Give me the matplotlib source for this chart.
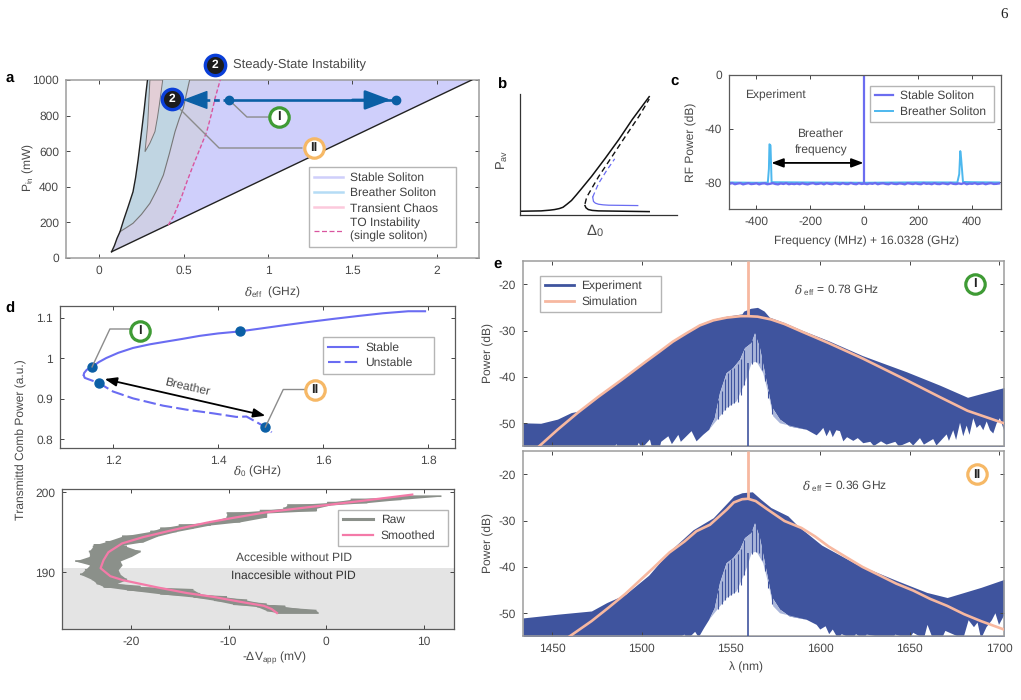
import matplotlib
matplotlib.use("Agg")
import matplotlib.pyplot as plt
from matplotlib.lines import Line2D

W, H = 1021, 700
FS = 8.7
plt.rcParams["font.family"] = ["Liberation Sans", "DejaVu Sans"]
plt.rcParams["mathtext.fontset"] = "custom"
plt.rcParams["mathtext.rm"] = "Liberation Sans"
plt.rcParams["mathtext.it"] = "DejaVu Serif:italic"
plt.rcParams["mathtext.fallback"] = "stix"
plt.rcParams["axes.unicode_minus"] = False
plt.rcParams["text.hinting"] = "no_hinting"
plt.rcParams["text.hinting_factor"] = 1
plt.rcParams["font.size"] = FS
TXT = "#484848"
GRID_GREY = "#9c9c9c"
DARK = "#5a5a5a"
DOT = "#0b5fa5"
GREEN = "#3f9b35"
ORANGE = "#f6b866"
RING = "#0a3fd8"

# ---- panel a: operating regions ----
left_edge_x = [0.073, 0.09, 0.105, 0.123, 0.145, 0.17, 0.20, 0.215, 0.23, 0.241, 0.255, 0.267, 0.277, 0.285, 0.287]
left_edge_y = [35, 70, 110, 148, 215, 285, 372, 450, 550, 635, 745, 841, 930, 994, 1000]
breather_x = [0.123, 0.16, 0.20, 0.25, 0.30, 0.34, 0.38, 0.415, 0.449, 0.475, 0.498, 0.515, 0.534, 0.535]
breather_y = [148, 170, 195, 245, 307, 380, 466, 585, 710, 785, 841, 915, 994, 1000]
chaos_x = [0.30, 0.287, 0.271, 0.30, 0.33, 0.345, 0.356, 0.366, 0.376]
chaos_y = [1000, 747, 597, 645, 710, 790, 860, 930, 1000]
to_x = [0.409, 0.44, 0.488, 0.52, 0.557, 0.595, 0.637, 0.665, 0.686, 0.715, 0.717]
to_y = [185, 235, 344, 430, 522, 610, 710, 810, 897, 994, 1000]
wedge_x = [0.073, 2.207]
wedge_y = [35, 1000]
scan_x = [0.769, 1.758]
scan_y = [888, 888]

# ---- panel b: bistability sketch ----
b_solid_x = [0, .134, .19, .22, .25, .274, .30, .328, .36, .392, .457, .543, .629, .716, .823]
b_solid_y = [.031, .034, .04, .045, .053, .064, .09, .12, .168, .218, .321, .469, .623, .791, .978]
b_dash_x = [.414, .425, .5, .586, .672, .759, .823]
b_dash_y = [.092, .148, .316, .483, .651, .818, .958]
b_low_x = [.414, .42, .435, .46, .5, .823]
b_low_y = [.078, .06, .045, .038, .034, .028]
b_blue_x = [.463, .468, .48, .5, .53, .565, .75]
b_blue_y = [.148, .112, .098, .089, .084, .081, .078]
b_bdash_x = [.463, .5, .554, .603]
b_bdash_y = [.148, .26, .372, .464]

# ---- panel c: RF spectra ----
rf_freq = list(range(-500, 501, 10))
rf_stable = [-81.2, -80.6, -81.5, -81.0, -80.7, -81.6, -81.1, -80.7, -81.4, -81.2,
             -80.8, -81.6, -81.0, -80.8, -81.5, -81.2, -80.7, -81.3, -81.6, -80.9,
             -81.3, -80.7, -81.5, -81.1, -81.4, -81.0, -81.5, -80.8, -81.3, -81.6,
             -81.0, -80.7, -81.4, -81.2, -80.8, -81.6, -80.7, -81.2, -81.5, -80.8,
             -81.1, -81.5, -80.7, -81.3, -81.4, -80.6, -81.2, -81.5, -80.7, -81.3,
             -81.0, -81.4, -80.9, -81.2, -80.6, -81.5, -81.0, -80.8, -81.3, -81.5,
             -80.7, -81.2, -81.4, -80.9, -81.1, -81.6, -80.7, -81.0, -81.4, -80.8,
             -81.3, -81.5, -80.6, -81.2, -81.0, -81.5, -80.7, -81.3, -81.4, -80.8,
             -81.1, -81.5, -80.6, -81.2, -81.4, -80.9, -81.3, -80.6, -81.5, -81.0,
             -81.2, -80.7, -81.4, -81.1, -80.8, -81.5, -81.0, -80.7, -81.3, -81.2, -80.9]
stable_peak = 0
stable_floor = -81
breather_freq = [-500, -400, -358, -354, -352, -348, -344, -200, 0, 200, 345, 352, 356, 359, 366, 400, 500]
breather_rf = [-80.2, -80.4, -80.3, -70, -51.7, -52.5, -80, -80.2, -80.4, -80.1, -80.2, -74, -56.8, -62, -79.8, -80, -80.2]

# ---- panel d (top): comb power ----
stable_d = [1.144, 1.145, 1.15, 1.16, 1.173, 1.187, 1.21, 1.238, 1.27, 1.302, 1.33, 1.365, 1.40, 1.441,
            1.48, 1.524, 1.57, 1.619, 1.665, 1.714, 1.762, 1.794]
stable_p = [.959, .964, .972, .979, .991, 1.001, 1.014, 1.026, 1.035, 1.042, 1.048, 1.056, 1.062, 1.067,
            1.074, 1.082, 1.090, 1.098, 1.105, 1.112, 1.117, 1.117]
unstable_d = [1.144, 1.146, 1.152, 1.173, 1.2, 1.238, 1.295, 1.34, 1.39, 1.435, 1.454, 1.49, 1.502]
unstable_p = [.959, .952, .949, .939, .918, .901, .883, .873, .864, .855, .856, .83, .817]
marked_d = [1.16, 1.441, 1.173, 1.49]
marked_p = [.979, 1.067, .939, .83]

# ---- panel d (bottom): raw and smoothed scan ----
raw_power = [184.9, 185.2, 185.7, 186.0, 186.5, 186.9, 187.3, 187.8, 188.2, 188.6, 189.1,
             189.75, 190.3, 190.9, 191.4, 192.0, 192.6, 193.2, 193.4, 193.8, 194.5, 195.1,
             195.5, 195.9, 196.3, 196.9, 197.4, 197.7, 198.0, 198.4, 198.7, 199.1, 199.5]
raw_left = [-4.9, -6.1, -7.1, -9.5, -11.5, -13.6, -17.0, -20.4, -22.8, -23.5, -24.0,
            -25.2, -24.7, -24.2, -25.7, -24.2, -24.3, -23.9, -23.8, -22.6, -20.9, -18.0,
            -17.0, -15.1, -11.9, -10.2, -10.2, -6.8, -4.4, -4.0, 0.1, 2.5, 7.6]
raw_right = [-0.8, -1.0, -4.2, -6.1, -8.1, -10.2, -12.9, -13.6, -19.0, -21.4, -20.4,
             -21.1, -21.3, -20.9, -21.1, -19.9, -19.0, -20.4, -20.8, -18.7, -17.3, -15.3,
             -13.6, -11.9, -8.8, -6.1, -6.1, -1.0, -1.0, 0.4, 4.2, 7.6, 11.7]
smooth_v = [-5.05, -5.6, -6.4, -8.8, -11.5, -14.3, -17.3, -20.8, -22.1, -22.6, -23.1, -22.8,
            -22.3, -20.9, -18.7, -15.6, -12.2, -9.5, -6.1, -2.7, 0.75, 4.2, 8.8]
smooth_p = [184.9, 185.4, 185.8, 186.3, 186.9, 187.4, 188.1, 189.0, 189.5, 190.0, 190.5, 191.5,
            192.5, 193.6, 194.4, 195.3, 196.2, 196.8, 197.5, 198.0, 198.5, 199.0, 199.7]
pid_limit = 190.5

# ---- panel e: optical spectra ----
up1_wl = [1433.7, 1443.6, 1453.0, 1460.6, 1464.4, 1475.8, 1489, 1501.4, 1509.9, 1517.5, 1525.1, 1532.6,
          1540.2, 1547.8, 1556.2, 1557.2, 1561.1, 1564.9, 1568.6, 1571.5, 1580, 1589.5, 1604.7, 1623.6,
          1648.3, 1667.0, 1682.4, 1690, 1702.8]
up1_db = [-49.9, -50.0, -49.1, -47.7, -47.4, -44, -40.4, -36.7, -34.4, -32.2, -30.3, -28.6,
          -27.5, -26.9, -26.4, -25.8, -25.2, -25, -25.8, -27.1, -28.3, -29.9, -32.2, -35.4,
          -38.9, -41.8, -44.4, -43.6, -42.3]
up2_wl = [1433.7, 1453, 1472, 1480.5, 1491, 1504, 1515.4, 1528.8, 1540.1, 1551.6, 1556.2, 1562,
          1566.7, 1572.4, 1581.9, 1587.6, 1600.8, 1619.8, 1642.5, 1659.6, 1671, 1680.5, 1690, 1702.8]
up2_db = [-51, -50.2, -49.5, -47.7, -45.9, -41.8, -36.7, -32, -29.4, -24.7, -24, -23.8,
          -25.4, -27.2, -29, -31.2, -35.3, -39.3, -42.9, -45.5, -46.6, -45.5, -44.4, -42.7]

# lower edge of the comb around the pump (tooth tips)
mid_wl = [1537.9, 1541, 1543.9, 1547.6, 1551.3, 1555.1, 1557.9, 1561.6, 1563.5, 1566.3,
          1569.1, 1572.8, 1577.5, 1583, 1592.4]
mid_db = [-51.4, -48.9, -43.5, -39.2, -38.1, -36.3, -33.8, -32.7, -30.6, -33.8,
          -39.2, -46.4, -49.2, -50.7, -51.4]
low1_left_wl = [1433.7, 1484, 1486, 1487, 1497, 1498.5, 1500, 1504.7, 1506, 1510, 1511, 1515, 1517, 1520.6,
                1522, 1528, 1530.8, 1534.5]
low1_left_db = [-55.5, -55.5, -54.5, -55.5, -55.5, -54.2, -55.5, -53.5, -55.5, -55.5, -54, -52.8, -54.5, -52.5,
                -54, -51.7, -53.9, -52.5]
low1_right_wl = [1598, 1600, 1601.7, 1603.5, 1605.4, 1607, 1609, 1611, 1612.9, 1615, 1618.5, 1621, 1624.1, 1628,
                 1630, 1634, 1637.1, 1642, 1644, 1650, 1652, 1655.8, 1658, 1663.2, 1665, 1670.7, 1672, 1674.4,
                 1676, 1678.2, 1680, 1681.9, 1683.5, 1685.6, 1687.5, 1689.4, 1691.2, 1693.1, 1695, 1696.8,
                 1698.7, 1700.5, 1702.8]
low1_right_db = [-52.6, -51.8, -51.0, -52.8, -51.4, -53, -51.5, -51.7, -53.9, -53, -53.8, -53.2, -54.3, -54,
                 -54.9, -53.9, -54.6, -54, -55, -54, -54.8, -53.2, -54.6, -53.4, -54.8, -52.4, -53.8, -51.5,
                 -53.6, -49.9, -52.8, -50.5, -52.5, -48.9, -51, -50.3, -51.5, -49.6, -51.5, -52.2,
                 -50, -48.9, -51.5]
low2_left_wl = [1433.7, 1520, 1524, 1526, 1530, 1532, 1535]
low2_left_db = [-55.5, -55.5, -54.6, -55.5, -54, -55.2, -53.2]
low2_right_wl = [1598, 1600, 1603, 1605, 1607, 1610, 1612, 1618, 1620, 1624, 1626, 1640, 1642, 1650, 1652, 1658,
                 1660, 1663, 1668, 1670, 1680, 1683, 1686, 1688, 1690, 1693, 1696, 1698, 1700, 1702.8]
low2_right_db = [-52.5, -53.5, -52.8, -54.5, -53.5, -55.5, -54.5, -55.5, -54.5, -55.5, -54.6, -55.5, -54.6, -55.5,
                 -54.2, -55.5, -52.5, -55.5, -55.5, -53.8, -55.5, -51.5, -53, -52, -55.5, -53, -51.5, -50, -52.5, -50.5]

# top of the empty region beneath the teeth
void_wl = [1540.1, 1543.9, 1547.6, 1553.2, 1556.9, 1559.2, 1561.6, 1564.4, 1568.1, 1570.9, 1573.7, 1577.5]
void_db = [-50.3, -48.5, -46.7, -45.3, -42.1, -39.9, -37, -36.7, -39.2, -43.5, -48.5, -50]
tooth_wl = [1543, 1544.8, 1546.6, 1548.4, 1550.2, 1552, 1553.8, 1555.6, 1557.4, 1562, 1563.8, 1565.6, 1567.4, 1569.2, 1571, 1572.8]
tooth_tip = [-45, -43, -40.5, -39.2, -38.4, -38, -37.2, -36.2, -34.3, -32, -31, -32.6, -35.5, -39.4, -43, -46.2]
tooth_end = [-49, -48, -47.2, -46.4, -46, -45.7, -45.4, -44, -41.8, -37.2, -36.8, -37, -38.6, -40.8, -44.5, -48]
pump_wl = 1559.7
pump_floor_top = -37

sim1_wl = [1442.6, 1453, 1464.4, 1475.8, 1489, 1501.4, 1509.9, 1517.5, 1525.1, 1532.6, 1540.2, 1547.8,
           1555.4, 1559.6, 1564.9, 1572.4, 1580, 1589.5, 1604.7, 1623.6, 1648.3, 1667.2, 1682.4, 1702.8]
sim1_db = [-55, -51.4, -47.7, -44.3, -40.6, -37, -34.6, -32.4, -30.6, -28.9, -27.8, -27.2,
           -26.9, -26.9, -27, -27.6, -28.6, -30.2, -32.7, -36, -40.7, -44.4, -47.3, -50]
sim2_wl = [1459.7, 1472, 1481.5, 1491, 1506.1, 1515.6, 1524.1, 1530.7, 1538.3, 1547.8, 1551.6, 1556.3, 1559.6, 1563.9,
           1570.5, 1580, 1589.5, 1597, 1604.7, 1614.1, 1623.6, 1633.1, 1642.5, 1652, 1661.5, 1671, 1680.5, 1690, 1702.8]
sim2_db = [-55, -51.7, -48.8, -45.8, -40.4, -36.9, -34.5, -32.3, -30.9, -27.6, -26.1, -25.4, -25.3, -25.8,
           -27.6, -30.1, -31.6, -33.4, -35.6, -37.8, -40, -41.8, -43.6, -45.1, -46.9, -48.4, -50.2, -51.7, -53.5]

fig = plt.figure(figsize=(W / 100, H / 100), dpi=100, facecolor="white")


def pos(x, y):
    return x / W, 1 - y / H


def make_axes(l, t, r, b, spine=GRID_GREY, lw=1.1):
    ax = fig.add_axes([l / W, 1 - b / H, (r - l) / W, (b - t) / H])
    for s in ax.spines.values():
        s.set_color(spine)
        s.set_linewidth(lw)
    ax.tick_params(direction="in", length=3, width=0.7, color="#444444", labelcolor=TXT,
                   labelsize=FS, top=True, right=True, pad=5)
    return ax


def labels(ax, xlabel=None, xy=None, ylabel=None, yxy=None):
    if xlabel:
        ax.set_xlabel(xlabel, color=TXT, fontsize=FS)
        ax.xaxis.set_label_coords(*pos(*xy), transform=fig.transFigure)
    if ylabel:
        ax.set_ylabel(ylabel, color=TXT, fontsize=FS)
        ax.yaxis.set_label_coords(*pos(*yxy), transform=fig.transFigure)


def boxed_legend(ax, handles, names, x, y, width, hl=2.45, ls=0.36, size=FS):
    fx, fy = pos(x, y)
    leg = ax.legend(handles, names, loc="upper left", bbox_to_anchor=(fx, fy, width / W, 0),
                    bbox_transform=fig.transFigure, borderaxespad=0, fontsize=size, mode="expand",
                    handlelength=hl, handletextpad=0.6, labelspacing=ls, borderpad=0.42,
                    fancybox=False, framealpha=1, edgecolor="#b5b5b5", labelcolor="#404040")
    leg.get_frame().set_linewidth(1.0)
    leg.set_zorder(6)
    return leg


def badge(ax, x, y, name, ring):
    ax.scatter([x], [y], s=195, facecolor="white", edgecolor=ring, linewidth=2.3, zorder=9, clip_on=False)
    ax.text(x, y, name, ha="center", va="center", fontsize=9, fontweight="bold", color="#222222",
            zorder=10, clip_on=False)


def dark_badge(ax, x, y):
    ax.scatter([x], [y], s=215, facecolor="#1c1c1c", edgecolor=RING, linewidth=2.4, zorder=9, clip_on=False)
    ax.text(x, y, "2", ha="center", va="center", fontsize=8.5, fontweight="bold", color="white",
            zorder=10, clip_on=False)


def leader(ax, xs, ys):
    ax.plot(xs, ys, color="#8c8c8c", lw=1.0, zorder=7, clip_on=False)


for name, x, y in [("a", 10, 78), ("b", 502, 85), ("c", 675, 81), ("d", 10, 309), ("e", 498, 264)]:
    fig.text(*pos(x, y), name, fontsize=10.5, fontweight="bold", color="black", ha="center", va="center")
fig.text(*pos(1004, 15), "6", family="Liberation Serif", fontsize=11, color="#222222", ha="center", va="center")

# -- a --
a = make_axes(66, 80, 479, 258)
a.set_xlim(-0.197, 2.25)
a.set_ylim(0, 1000)
a.fill(left_edge_x + [wedge_x[1]], left_edge_y + [wedge_y[1]], color="#cfcffb", lw=0, zorder=1)
a.fill([left_edge_x[0]] + breather_x + to_x[::-1], [left_edge_y[0]] + breather_y + to_y[::-1],
       color="#cfcfe6", lw=0, zorder=2)
a.fill(left_edge_x + breather_x[::-1], left_edge_y + breather_y[::-1], color="#c0d5e2", lw=0, zorder=3)
a.fill(chaos_x, chaos_y, facecolor="#e2ced6", edgecolor="#777777", lw=0.7, zorder=4)
a.plot(breather_x, breather_y, color="#777777", lw=0.8, zorder=4)
a.plot(left_edge_x, left_edge_y, color="#222222", lw=1.0, zorder=5)
a.plot(wedge_x, wedge_y, color="#222222", lw=1.0, zorder=5)
a.plot(to_x, to_y, color="#d9559f", lw=1.0, ls=(0, (3, 1.6)), zorder=5)
a.set_xticks([0, 0.5, 1, 1.5, 2], ["0", "0.5", "1", "1.5", "2"])
a.set_yticks([0, 200, 400, 600, 800, 1000])
labels(a, r"$\delta_{\mathrm{eff}}$  (GHz)", (272, 284), r"P$_{\mathrm{in}}$ (mW)", (36, 168))
a.plot(scan_x, scan_y, color=DOT, lw=1.9, zorder=7)
a.plot([0.62, scan_x[0]], [888, 888], color=DOT, lw=1.9, ls=(0, (2.2, 1.4)), zorder=7)
a.scatter(scan_x, scan_y, s=36, color=DOT, zorder=8)
a.annotate("", xy=(scan_x[1] - 0.03, 888), xytext=(1.5, 888), zorder=8,
           arrowprops=dict(arrowstyle="-|>,head_length=1.6,head_width=0.6", mutation_scale=10, lw=1.9,
                           color=DOT, shrinkA=0, shrinkB=0))
a.annotate("", xy=(0.494, 888), xytext=(0.63, 888), zorder=8,
           arrowprops=dict(arrowstyle="-|>,head_length=1.6,head_width=0.6", mutation_scale=10, lw=1.0,
                           color=DOT, shrinkA=0, shrinkB=0))
leader(a, [0.769, 0.875, 1.0], [888, 792, 792])
leader(a, [0.478, 0.71, 1.2], [837, 618, 618])
badge(a, 1.065, 792, "I", GREEN)
badge(a, 1.273, 618, "II", ORANGE)
dark_badge(a, 0.431, 893)
dark_badge(a, 0.686, 1084)
a.text(0.79, 1084, "Steady-State Instability", fontsize=9.1, color=TXT, va="center", clip_on=False)
boxed_legend(a, [Line2D([], [], color="#cfcffb", lw=1.8),
                 Line2D([], [], color="#b5dcf5", lw=1.8),
                 Line2D([], [], color="#fcc9dc", lw=1.8),
                 Line2D([], [], color="#d9559f", lw=0.9, ls=(0, (4, 2)))],
             ["Stable Soliton", "Breather Soliton", "Transient Chaos", "TO Instability\n(single soliton)"],
             309, 167, 147, size=8.5)

# -- b --
b = make_axes(520, 94, 677, 215, spine="#333333", lw=0.9)
b.set_xlim(0, 1)
b.set_ylim(0, 1)
b.spines["top"].set_visible(False)
b.spines["right"].set_visible(False)
b.set_xticks([])
b.set_yticks([])
b.plot(b_solid_x, b_solid_y, color="#111111", lw=1.1)
b.plot(b_dash_x, b_dash_y, color="#111111", lw=1.0, ls=(0, (4, 2.6)))
b.plot(b_low_x, b_low_y, color="#111111", lw=1.1)
b.plot(b_blue_x, b_blue_y, color="#6a6cf2", lw=0.9)
b.plot(b_bdash_x, b_bdash_y, color="#6a6cf2", lw=0.9, ls=(0, (4, 2.6)))
b.set_xlabel(r"$\Delta_0$", color=TXT, fontsize=11)
b.xaxis.set_label_coords(*pos(595, 222), transform=fig.transFigure)
b.set_ylabel(r"P$_{\mathrm{av}}$", color=TXT, fontsize=9.5)
b.yaxis.set_label_coords(*pos(510, 160), transform=fig.transFigure)

# -- c --
c = make_axes(729, 75, 1001, 209, spine=DARK, lw=0.9)
c.set_xlim(-502, 507)
c.set_ylim(-100, 0)
c.plot(breather_freq, breather_rf, color="#4db8ee", lw=1.4, label="Breather Soliton")
c.plot(rf_freq, rf_stable, color="#6b6df0", lw=1.7)
c.vlines(0, stable_floor, stable_peak, color="#6b6df0", lw=1.6)
c.set_xticks([-400, -200, 0, 200, 400])
c.set_yticks([-80, -40, 0])
labels(c, "Frequency (MHz) + 16.0328 (GHz)", (867, 236), "RF Power (dB)", (697, 142))
c.text(-444, -15.6, "Experiment", fontsize=FS, color=TXT, va="center")
c.text(-166, -44, "Breather", fontsize=FS, color=TXT, ha="center", va="center")
c.text(-160, -56, "frequency", fontsize=FS, color=TXT, ha="center", va="center")
c.annotate("", xy=(-345, -65.6), xytext=(-3, -65.6),
           arrowprops=dict(arrowstyle="<|-|>,head_length=0.8,head_width=0.3", mutation_scale=9, lw=1.3,
                           color="black", shrinkA=0, shrinkB=0))
boxed_legend(c, [Line2D([], [], color="#6b6df0", lw=1.6), Line2D([], [], color="#4db8ee", lw=1.4)],
             ["Stable Soliton", "Breather Soliton"], 870, 85.5, 124, hl=1.5)

# -- d top --
d1 = make_axes(60, 306, 455, 448, spine=DARK, lw=0.9)
d1.set_xlim(1.099, 1.851)
d1.set_ylim(0.778, 1.13)
d1.plot(stable_d, stable_p, color="#6a6cf2", lw=1.5)
d1.plot(unstable_d, unstable_p, color="#6a6cf2", lw=1.5, ls=(0, (6, 2)))
d1.scatter(marked_d, marked_p, s=42, color=DOT, zorder=6)
d1.set_xticks([1.2, 1.4, 1.6, 1.8], ["1.2", "1.4", "1.6", "1.8"])
d1.set_yticks([0.8, 0.9, 1.0, 1.1], ["0.8", "0.9", "1", "1.1"])
labels(d1, r"$\delta_0$ (GHz)", (257, 463), "Transmittd Comb Power (a.u.)", (27, 440))
d1.annotate("", xy=(1.184, 0.949), xytext=(1.49, 0.858),
            arrowprops=dict(arrowstyle="<|-|>,head_length=0.8,head_width=0.3", mutation_scale=9, lw=1.3,
                            color="black", shrinkA=0, shrinkB=0))
d1.text(1.341, 0.93, "Breather", fontsize=FS, color=TXT, rotation=-13, ha="center", va="center")
leader(d1, [1.16, 1.194, 1.24], [0.979, 1.073, 1.073])
leader(d1, [1.49, 1.524, 1.57], [0.83, 0.923, 0.923])
badge(d1, 1.252, 1.069, "I", GREEN)
badge(d1, 1.584, 0.922, "II", ORANGE)
boxed_legend(d1, [Line2D([], [], color="#6a6cf2", lw=1.5), Line2D([], [], color="#6a6cf2", lw=1.5, ls=(0, (6, 2)))],
             ["Stable", "Unstable"], 323, 337, 111, hl=2.5)

# -- d bottom --
d2 = make_axes(62, 489, 454, 629, spine=DARK, lw=0.9)
d2.set_xlim(-27.05, 13.07)
d2.set_ylim(182.9, 200.4)
d2.axhspan(d2.get_ylim()[0], pid_limit, color="#e4e4e4", lw=0, zorder=0)
# the raw trace sweeps back and forth in voltage at each power level
raw_v = [v for pair in zip(raw_left, raw_right) for v in pair]
raw_p = [p for p in raw_power for _ in range(2)]
d2.fill_betweenx(raw_power, raw_left, raw_right, color="#8b908a", lw=0, zorder=2)
d2.plot(raw_v, raw_p, color="#8b908a", lw=1.2, zorder=2, solid_joinstyle="miter")
d2.plot(smooth_v, smooth_p, color="#f47aa8", lw=1.6, zorder=3)
d2.set_xticks([-20, -10, 0, 10])
d2.set_yticks([190, 200])
labels(d2, r"-$\Delta$V$_{\mathrm{app}}$ (mV)", (275, 650))
d2.text(-3.3, 191.75, "Accesible without PID", fontsize=FS, color=TXT, ha="center", va="center")
d2.text(-3.4, 189.6, "Inaccesible without PID", fontsize=FS, color="#333333", ha="center", va="center")
boxed_legend(d2, [Line2D([], [], color="#8b908a", lw=2.2), Line2D([], [], color="#f47aa8", lw=1.6)],
             ["Raw", "Smoothed"], 338, 509.5, 110, hl=2.5)

# -- e --
EXP = "#3f549e"
SIM = "#f7b8a0"


def spectrum(ax, up_wl, up_db, low_wl, low_db, sim_wl, sim_db):
    ax.set_xlim(1433.7, 1702.8)
    ax.set_ylim(-54.9, -15)
    ax.fill_between(up_wl, -60, up_db, color=EXP, lw=0, zorder=1)
    ax.fill(low_wl + [low_wl[-1], low_wl[0]], low_db + [-60, -60], color="white", lw=0, zorder=2)
    ax.fill(mid_wl + void_wl[::-1], mid_db + void_db[::-1], color="#aab6da", lw=0, zorder=3)
    ax.vlines(tooth_wl, tooth_end, tooth_tip, color=EXP, lw=0.8, zorder=3)
    ax.vlines(pump_wl, -60, pump_floor_top, color=EXP, lw=1.2, zorder=3)
    ax.plot(sim_wl, sim_db, color=SIM, lw=1.9, zorder=4)
    peak = max(sim_db)
    ax.vlines(pump_wl, peak, -15, color=SIM, lw=2.0, zorder=4)
    ax.set_xticks([1450, 1500, 1550, 1600, 1650, 1700])
    ax.set_yticks([-50, -40, -30, -20])


e1 = make_axes(523, 261, 1004, 446)
spectrum(e1, up1_wl, up1_db, low1_left_wl + mid_wl + low1_right_wl, low1_left_db + mid_db + low1_right_db,
         sim1_wl, sim1_db)
e1.tick_params(labelbottom=False)
labels(e1, None, None, "Power (dB)", (494, 353))
e1.text(1609, -21.4, r"$\delta_{\ \mathrm{eff}}$ = 0.78 GHz", fontsize=FS, color=TXT, ha="center", va="center")
badge(e1, 1686.6, -19.9, "I", GREEN)
boxed_legend(e1, [Line2D([], [], color=EXP, lw=2.0), Line2D([], [], color=SIM, lw=2.0)],
             ["Experiment", "Simulation"], 540, 275.5, 121, hl=2.4)

e2 = make_axes(523, 451, 1004, 636)
spectrum(e2, up2_wl, up2_db, low2_left_wl + mid_wl + low2_right_wl, low2_left_db + mid_db + low2_right_db,
         sim2_wl, sim2_db)
labels(e2, "\u03bb (nm)", (746, 662), "Power (dB)", (494, 543))
e2.text(1613.8, -22.6, r"$\delta_{\ \mathrm{eff}}$ = 0.36 GHz", fontsize=FS, color=TXT, ha="center", va="center")
badge(e2, 1687.5, -20, "II", ORANGE)

fig.savefig("out.png", dpi=100, facecolor="white")
